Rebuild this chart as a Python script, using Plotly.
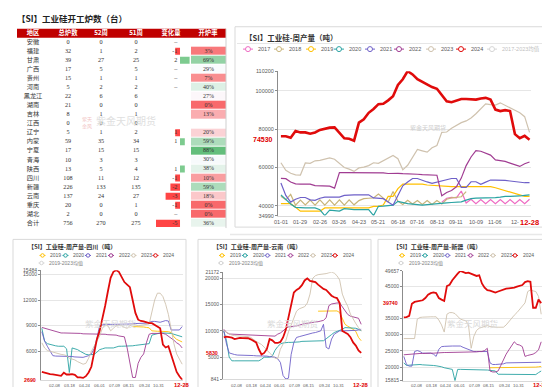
import plotly.graph_objects as go
from datetime import date

W, H = 550, 387
SANS = "Liberation Sans, Arial, Noto Sans CJK SC, sans-serif"
CJK = "Noto Sans CJK SC, sans-serif"
SERIF = "Liberation Serif, Noto Sans CJK SC, serif"

# ================= table data =================
table_title = "【SI】工业硅开工炉数（台）"
table_headers = ["地区", "总炉数", "52周", "51周", "变化量", "开炉率"]
regions = ["安徽", "福建", "甘肃", "广西", "贵州", "河南", "黑龙江", "湖南", "吉林", "江西", "辽宁",
           "内蒙", "宁夏", "青海", "陕西", "四川", "新疆", "云南", "重庆", "湖北", "合计"]
furnaces_total = [0, 32, 39, 17, 15, 5, 22, 21, 8, 0, 5, 59, 17, 10, 13, 108, 226, 137, 20, 2, 756]
furnaces_w52 = [0, 1, 27, 5, 1, 2, 6, 0, 1, 0, 1, 35, 15, 3, 5, 11, 133, 24, 0, 0, 270]
furnaces_w51 = [0, 2, 25, 5, 1, 2, 6, 0, 1, 0, 2, 34, 15, 3, 4, 12, 135, 27, 1, 0, 275]
change_labels = ["–", "-1", "2", "–", "–", "–", "", "", "", "", "1", "1", "", "", "1", "-1", "-2", "-3", "-1", "–", "-5"]
open_rate = [None, 3, 69, 29, 7, 40, 27, 0, 13, None, 20, 59, 88, 30, 38, 10, 59, 18, 0, 0, 36]

# ================= national weekly output =================
main_title = "【SI】工业硅-周产量（吨）"
main_tick_labels = ["01-01", "01-29", "02-26", "03-26", "04-23", "05-21", "06-18", "07-16",
                    "08-13", "09-11", "10-09", "11-06", "12-"]
main_last_label = "12-28"
main_yticks = [40000, 60000, 80000, 100000]

nat_2017 = [None] * 33 + [42000, 44000, 44500, 44200, 47800, 41500, 43500, 41200, 43300, 41200,
                          43300, 41200, 43300, 41200, 43300, 41200, 43300, 41200, 43500]
nat_2018 = [45000, 43200, 46000, 40400, 43000, 40500, 43000, 40400, 43200, 40400,
            43200, 40400, 43200, 40400, 43200, 40600, 42800, 43800, 44000, 44200,
            46200, 44000, 42000, 47500, 42500, 40800, 43000, 41000, 42800, 40800,
            42800, 40800, 42800, 41000, 43500, 44200, 44500, 44800, 47500] + [None] * 13
nat_2019 = [41200, 41200, 41200, 39300, 37300, 37300, 37300, 37300, 37300, 39000,
            39000, 39000, 39000, 39000, 39000, 39000, 39000, 39000, 39000, 39800,
            39800, 40500, 45000, 45000, 49000, 51400, 51400, 51400, 51400, 51400,
            50900, 50700, 50500, 50200, 50100, 50100, 50100, 50100, 50100, 50100,
            50100, 50100, 50300, 50100, 49500, 48700, 48000, 47500, 46700, 45500,
            45000, 45000]
nat_2020 = [45800, 43500, 41000, 39300, 39000, 39000, 39000, 39000, 38000, 35000,
            37800, 37500, 37300, 38600, 38300, 38100, 38100, 38100, 38100, 34990,
            39800, 39900, 40200, 40400, 42400, 41800, 41200, 41000, 40800, 40400,
            40700, 41000, 41300, 41500, 41600, 41800, 42000, 42100, 43000, 43800,
            44100, 44100, 44100, 44100, 44300, 44600, 45000, 45000, 45000, 45200,
            45500, 45800]
nat_2021 = [52000, 45500, 42000, 43500, 44400, 44400, 43200, 42900, 44000, 44600,
            44600, 44600, 44600, 45500, 45800, 45800, 45800, 45800, 45800, 44200,
            44100, 43800, 42000, 40400, 45500, 50500, 52500, 54300, 54300, 53200,
            52500, 51800, 52500, 53200, 53800, 54300, 54300, 49700, 49700, 52600,
            52600, 51300, 52400, 53500, 53500, 53500, 53300, 53000, 52700, 52200,
            52100, 52200]
nat_2022 = [54400, 54200, 52500, 51500, 51400, 51400, 51400, 50600, 50400, 50400,
            50300, 49300, 57400, 57400, 57400, 57300, 57300, 57300, 57300, 57300,
            57300, 57200, 56900, 57100, 57000, 56800, 56800, 56700, 56500, 56300,
            56100, 56000, 56000, 45300, 47000, 48000, 50000, 54500, 61000, 65500,
            68800, 68500, 67500, 66500, 64000, 63600, 63200, 62300, 61500, 60600,
            62000, 62900]
nat_2023 = [62500, 58600, 57000, 56200, 56100, 62400, 62200, 63500, 63700, 64200,
            65000, 64300, 62200, 60000, 59200, 58000, 59800, 60200, 61000, 62500,
            62200, 63600, 65000, 66300, 64600, 58800, 61200, 65500, 69400, 68700,
            68000, 70300, 71500, 78300, 78500, 80500, 82000, 83400, 84300, 85800,
            88000, 90500, 93200, 92800, 92500, 93700, 92500, 91400, 89800, 88500,
            86500, 78300]
nat_2024 = [76300, 76300, 75500, 79000, 78300, 78300, 77600, 78300, 79600, 80200,
            80800, 80900, 78300, 75200, 75000, 74000, 83400, 85100, 88500, 90500,
            93000, 93200, 95000, 97100, 103000, 106000, 110200, 108500, 106000, 104500,
            103000, 101900, 101000, 98000, 94500, 94000, 95000, 95700, 95700, 95700,
            95400, 96000, 96300, 95400, 90200, 89400, 89900, 89400, 77400, 75300,
            76500, 74530]

# ================= regional weekly output =================
small_tick_labels = ["02-08", "03-18", "04-24", "06-01", "07-09", "08-15", "09-24", "10-31"]
small_last_label = "12-28"
sc_title = "【SI】工业硅-周产量-四川（吨）"
yn_title = "【SI】工业硅-周产量-云南（吨）"
xj_title = "【SI】工业硅-周产量-新疆（吨）"
sc_yticks = [6000, 9000, 12000, 15000]
yn_yticks = [5000, 10000, 15000, 20000]
xj_yticks = [20000, 25000, 30000, 35000, 45000]

sc_2019 = [None] * 33 + [8900, 8900, 8900, 8900, 8850, 8800, 8750, 8400, 8350, 8350,
                         8350, 8350, 8350, 8300, 8200, 7700, 7400, 7200, 7100]
sc_2020 = [8700, 7200, 6900, 6800, 6700, 6650, 6600, 6600, 6600, 6300,
           3530, 6400, 6300, 6200, 6000, 5800, 5650, 5600, 5600, 5650,
           5900, 6200, 6300, 6400, 6400, 6400, 6400, 6500, 6600, 6600,
           6600, 6600, 6600, 6650, 6700, 6750, 6800, 6800, 6850, 6900,
           7900, 8000, 8100, 8150, 8150, 8150, 8150, 8100, 8000, 7900,
           7800, 7700]
sc_2021 = [8300, 7200, 6600, 6100, 5500, 5450, 5450, 5450, 5450, 5450,
           5400, 5400, 5350, 5330, 5330, 5300, 5400, 5500, 5700, 6300,
           7500, 9000, 9100, 9150, 9150, 9150, 9150, 9150, 9150, 9150,
           9200, 9200, 9200, 9200, 9250, 9250, 9300, 9300, 9300, 9400,
           9500, 9500, 9450, 9400, 9500, 9600, 9550, 8500, 8500, 8500,
           8500, 8900]
sc_2022 = [8800, 8700, 8600, 8500, 8400, 8300, 8200, 8150, 8150, 8150,
           8150, 8150, 8100, 8100, 8100, 8050, 8050, 8050, 8050, 8050,
           8050, 8000, 8000, 8000, 7950, 7950, 7900, 7900, 7800, 7760,
           7700, 6400, 4500, 2950, 2950, 4600, 5300, 5700, 7000, 8000,
           8100, 8100, 8100, 8100, 8100, 8000, 7800, 7600, 7300, 7000,
           6800, 6400]
sc_2023 = [7000, 6400, 6100, 6000, 5900, 5800, 5700, 5650, 5600, 5500,
           5200, 5100, 5000, 4800, 4600, 4500, 4600, 5200, 6000, 6600,
           7200, 7800, 8700, 9100, 9000, 8400, 8700, 9000, 9100, 9000,
           8800, 8700, 9000, 9200, 9100, 9000, 9050, 9100, 9100, 9200,
           10600, 12000, 12800, 12800, 12400, 11500, 10300, 8500, 6900, 5700,
           5000, 4500]
sc_2024 = [3600, 3500, 3400, 3330, 3300, 3260, 3200, 3140, 3500, 3300,
           3300, 3330, 3260, 2950, 2950, 2900, 3100, 3530, 4200, 5650,
           7400, 8400, 9800, 11300, 13000, 14600, 15300, 15484, 15300, 14700,
           14100, 13800, 13500, 12000, 10500, 9700, 9550, 9500, 9400, 9300,
           9300, 9100, 8950, 8700, 6800, 6450, 6600, 5500, 4400, 3600,
           3100, 2690]

yn_2019 = [None] * 35 + [13750, 13750, 13750, 13750, 13750, 13800, 13875, 13800, 13500, 12190,
                         11250, 10900, 10625, 10300, 9900, 8750, 8125]
yn_2020 = [10000, 8125, 5000, 4300, 4300, 4300, 4200, 4200, 4200, 4200,
           4200, 4300, 4300, 4300, 4600, 5000, 5000, 5000, 5200, 6300,
           7000, 7500, 7700, 7810, 7810, 7810, 7810, 7850, 7900, 8000,
           8000, 8050, 8100, 8125, 8125, 8125, 8125, 8125, 8500, 9000,
           9300, 9690, 9900, 10000, 10300, 10625, 10625, 10625, 10600, 10500,
           10310, 10000]
yn_2021 = [10000, 7500, 5800, 5600, 5500, 5400, 5400, 5400, 5300, 5300,
           5300, 5300, 5250, 5250, 5200, 5200, 5200, 5100, 5100, 5000,
           4690, 4000, 1500, 841, 1000, 5500, 7800, 8750, 8900, 9060,
           9200, 9375, 9450, 9600, 9690, 9800, 10000, 11250, 6875, 6560,
           8440, 9375, 9700, 10000, 10000, 10000, 10000, 10000, 10000, 10100,
           10200, 10310]
yn_2022 = [10300, 9700, 9400, 9375, 9375, 9375, 9375, 9300, 9300, 9300,
           9250, 9250, 9100, 9060, 9060, 9060, 9060, 9060, 9060, 9000,
           9375, 9600, 10000, 10500, 10750, 10800, 10900, 10950, 11100, 11300,
           11375, 11450, 11500, 11560, 11650, 11750, 11875, 12000, 12500, 14800,
           15125, 15250, 15310, 15310, 14600, 13800, 13125, 12800, 12625, 12500,
           12400, 11250]
yn_2023 = [10000, 9700, 9400, 9200, 9100, 9060, 9060, 9060, 9060, 8900,
           8750, 8300, 8000, 7700, 7400, 6900, 6250, 5800, 5300, 4800,
           4690, 6500, 7500, 8125, 9800, 11250, 12600, 13750, 14200, 14400,
           14600, 15300, 17000, 20000, 20500, 20700, 20750, 20750, 20900, 21060,
           21172, 21000, 20500, 19690, 17000, 15700, 14690, 13200, 12200, 11400,
           10625, 10000]
yn_2024 = [8750, 8900, 8800, 8700, 8450, 8600, 8650, 8625, 8600, 8600,
           8400, 8125, 7800, 6500, 5500, 5800, 6560, 8440, 8200, 7700,
           7700, 7900, 8750, 10200, 12600, 14800, 17300, 17800, 18125, 18700,
           19600, 20000, 19500, 19400, 19300, 18800, 18400, 18000, 17800, 17200,
           16700, 16400, 16250, 15300, 10000, 9700, 9400, 8800, 7800, 7200,
           6300, 5830]

xj_2019 = [None] * 32 + [19800, 19800, 19800, 19900, 19900, 19900, 19900, 19900, 19900, 19900,
                         20000, 20000, 20000, 20000, 20000, 20000, 20000, 20000, 20100, 20200]
xj_2020 = [21300, 20500, 20600, 20700, 20800, 20800, 20800, 20700, 20700, 20600,
           20600, 20500, 20400, 20300, 20100, 19800, 19600, 19300, 19300, 15815,
           19300, 19300, 19300, 19300, 19300, 19200, 19200, 19200, 19200, 19200,
           19100, 19100, 19000, 18900, 18800, 17800, 17800, 17800, 17700, 17700,
           17700, 17600, 17600, 17600, 17600, 17600, 17600, 17600, 17600, 17700,
           18300, 18800]
xj_2021 = [23300, 20800, 20300, 20300, 24800, 25100, 24800, 24300, 24300, 24400,
           24300, 24000, 23300, 25500, 26300, 26400, 26500, 26500, 26500, 26500,
           26500, 26500, 26100, 25800, 25500, 25300, 24800, 24800, 24800, 24800,
           24800, 24800, 21300, 20800, 20800, 20800, 20800, 21000, 21300, 21300,
           21300, 21300, 21400, 21400, 21500, 21500, 21500, 21500, 21500, 21500,
           21500, 21500]
xj_2022 = [23800, 23900, 24000, 24000, 24000, 24100, 24200, 24200, 24300, 24300,
           24300, 24300, 24400, 24400, 24500, 24500, 24500, 24500, 24500, 24600,
           24600, 24600, 24600, 24600, 24600, 24600, 24700, 24700, 24800, 24800,
           25100, 25800, 18800, 18500, 18500, 18800, 20500, 22500, 24000, 25300,
           26500, 27800, 27000, 26800, 26300, 23300, 23600, 23800, 24000, 24500,
           25300, 27800]
xj_2023 = [28800, 28800, 28800, 28800, 28800, 34800, 35300, 35400, 35500, 35500,
           35500, 35500, 35500, 34500, 33000, 30800, 36300, 36800, 36800, 36500,
           35800, 34800, 34500, 34300, 33000, 25800, 29500, 31300, 32000, 32300,
           32500, 32800, 32500, 32300, 32300, 32300, 32300, 32300, 33000, 34000,
           35300, 36000, 36800, 37800, 38800, 39800, 43300, 43800, 43500, 43300,
           41800, 36300]
xj_2024 = [35300, 35400, 35800, 39500, 40100, 40200, 40300, 40600, 41300, 42300,
           42800, 43000, 42800, 41300, 40800, 40400, 45000, 45400, 46800, 48000,
           48800, 49657, 49300, 49000, 49100, 48800, 48500, 48100, 48300, 45800,
           44500, 43700, 43600, 43300, 43000, 43300, 43600, 44000, 44200, 44300,
           44300, 44500, 44800, 45000, 45300, 46200, 46500, 46300, 38300, 38300,
           40800, 39740]

COLORS = {"2017": "#EE6BC3", "2018": "#C8B47A", "2019": "#FFC000", "2020": "#2AA3A3",
          "2021": "#6E60C8", "2022": "#A03C92", "2023": "#CFC2AE", "2024": "#E00B0B",
          "avg": "#D6D6D6"}

# ================= helpers =================
fig = go.Figure()
weeks = list(range(len(nat_2024)))
axes = {}
annotations = []
shapes = []


def dom_x(a, b):
    return [a / W, b / W]


def dom_y(top, bottom):
    return [1 - bottom / H, 1 - top / H]


def txt(x, y, s, size, color="#333333", anchor="left", family=CJK, xref="x8", yref="y8", bold=False):
    annotations.append(dict(x=x, y=y, xref=xref, yref=yref, text=("<b>%s</b>" % s) if bold else s,
                            showarrow=False, xanchor=anchor, yanchor="middle",
                            font=dict(size=size, color=color, family=family)))


def line_px(x0, y0, x1, y1, color, width=1.0):
    shapes.append(dict(type="line", xref="x8", yref="y8", x0=x0, y0=y0, x1=x1, y1=y1,
                       line=dict(color=color, width=width)))


def rect_px(x0, y0, x1, y1, color, width=1.0):
    shapes.append(dict(type="rect", xref="x8", yref="y8", x0=x0, y0=y0, x1=x1, y1=y1,
                       line=dict(color=color, width=width), fillcolor="rgba(0,0,0,0)"))


def legend_item(x0, y, label, color, seg, msize, fsize, tcolor):
    fig.add_trace(go.Scatter(x=[x0, x0 + seg / 2.0, x0 + seg], y=[y, y, y], mode="lines+markers",
                             line=dict(color=color, width=1),
                             marker=dict(size=msize, color="white", opacity=[0, 1, 0],
                                         line=dict(color=color, width=1)),
                             xaxis="x8", yaxis="y8", hoverinfo="skip", cliponaxis=False))
    txt(x0 + seg + 2.5, y, label, fsize, tcolor, family=SANS)


def chart(ax_id, xdom, ydom, series, yticks, xtickvals, xticktext, xrange, fs, xfs,
          red_w, other_w, last_label, label_y, red_size, axis_left_px):
    xa, ya = "x%d" % ax_id, "y%d" % ax_id
    vals = [v for _, s in series for v in s if v is not None]
    ymin, ymax = min(vals), max(vals)
    for name, s in series:
        fig.add_trace(go.Scatter(x=weeks, y=s, mode="lines",
                                 line=dict(color=COLORS[name], width=red_w if name == "2024" else other_w),
                                 xaxis=xa, yaxis=ya, hoverinfo="skip"))
    last = series[-1][1][-1]
    tv = [v for v in [ymin] + yticks + [ymax] if v != last]
    axes["xaxis%d" % ax_id] = dict(domain=dom_x(*xdom), anchor=ya, range=xrange, showticklabels=False,
                                   showgrid=False, zeroline=False, showline=True, linecolor="#d9d9d9",
                                   ticks="", fixedrange=True)
    axes["yaxis%d" % ax_id] = dict(domain=dom_y(*ydom), anchor=xa, range=[ymin, ymax], tickmode="array",
                                   tickvals=tv, ticktext=[str(v) for v in tv], showgrid=True,
                                   gridcolor="#e6e6e6", zeroline=False, showline=True, linecolor="#8c8c8c",
                                   ticks="outside", ticklen=2, tickcolor="#8c8c8c",
                                   tickfont=dict(size=fs, color="#595959", family=SANS), fixedrange=True)
    for pos, lab in zip(xtickvals, xticktext):
        txt(pos, label_y, lab, xfs, "#595959", anchor="center", family=SANS, xref=xa)
    txt(axis_left_px - 3, last, str(last), red_size, "#E00000", anchor="right", family=SANS, yref=ya, bold=True)
    txt(weeks[-1], label_y, last_label, red_size + 0.5, "#E00000", anchor="center", family=SANS,
        xref=xa, bold=True)


# ================= table =================
rows = list(range(len(regions)))
changes = [a - b for a, b in zip(furnaces_w52, furnaces_w51)]
axes["xaxis"] = dict(domain=dom_x(9, 218), range=[9, 218], visible=False, anchor="y", fixedrange=True)
axes["yaxis"] = dict(domain=dom_y(17.9, 220.3), range=[len(regions) - 0.5, -1.5], visible=False,
                     anchor="x", fixedrange=True)
axes["xaxis2"] = dict(domain=dom_x(148, 183), range=[-5.0, 2.29], visible=False, anchor="y", fixedrange=True)
axes["xaxis3"] = dict(domain=dom_x(183, 218), range=[-0.5, 0.5], visible=False, anchor="y", fixedrange=True)

shapes.append(dict(type="rect", xref="x", yref="y", x0=9, x1=218, y0=-1.5, y1=-0.5,
                   fillcolor="#C00000", line=dict(width=0), layer="below"))
fig.add_trace(go.Scatter(x=[25, 60, 93, 128, 163, 200], y=[-1] * 6, mode="text", text=table_headers,
                         textfont=dict(size=6.3, color="white", family=CJK, weight="bold"),
                         xaxis="x", yaxis="y", hoverinfo="skip", cliponaxis=False))
for cx, col, fam in [(25, regions, CJK), (60, furnaces_total, SERIF), (93, furnaces_w52, SERIF),
                     (128, furnaces_w51, SERIF)]:
    fig.add_trace(go.Scatter(x=[cx] * len(rows), y=rows, mode="text", text=[str(v) for v in col],
                             textfont=dict(size=6.2, color="#333333", family=fam),
                             xaxis="x", yaxis="y", hoverinfo="skip", cliponaxis=False))

max_rate = max(r for r in open_rate if r is not None)
mid = 28.0 / max_rate
fig.add_trace(go.Heatmap(z=[[r] for r in open_rate], x=[0], y=rows, xaxis="x3", yaxis="y",
                         colorscale=[[0, "#F8696B"], [mid, "#FCFCFF"], [1, "#63BE7B"]],
                         zmin=0, zmax=max_rate, showscale=False, ygap=1, hoverinfo="skip"))
fig.add_trace(go.Scatter(x=[0] * len(rows), y=rows, mode="text",
                         text=["" if r is None else "%d%%" % r for r in open_rate],
                         textfont=dict(size=6.0, color="#333333", family=SERIF),
                         xaxis="x3", yaxis="y", hoverinfo="skip", cliponaxis=False))
fig.add_trace(go.Bar(x=changes, y=rows, orientation="h", xaxis="x2", yaxis="y", width=0.78,
                     marker=dict(color=["#FF4545" if c < 0 else "#7DCB8F" for c in changes],
                                 line=dict(width=0)), hoverinfo="skip"))
fig.add_trace(go.Scatter(x=[-0.55] * len(rows), y=rows, mode="text", text=change_labels,
                         textposition="middle left",
                         textfont=dict(size=6.2, color="#333333", family=SERIF),
                         xaxis="x2", yaxis="y", hoverinfo="skip", cliponaxis=False))
txt(7, 7.5, table_title, 8.5, "#222222", bold=True)
line_px(218, 18, 218, 220.5, "#cfcfcf", 1)
txt(72, 113, "紫天<br>金风", 5, "#f2c4c4")
txt(86, 111, "紫金天风期货", 10, "#e0e0e0")

# ================= main chart =================
nat_series = [("2017", nat_2017), ("2018", nat_2018), ("2019", nat_2019), ("2020", nat_2020),
              ("2021", nat_2021), ("2022", nat_2022), ("2023", nat_2023), ("2024", nat_2024)]
chart(4, (270, 523), (61.1, 207.8), nat_series, main_yticks,
      [4 * i for i in range(len(main_tick_labels))], main_tick_labels, [-0.6, 51.3], 5.5, 5.5,
      2.6, 1.2, main_last_label, 214.5, 7.0, 270)
rect_px(227, 16, 540, 219.5, "#d9d9d9", 1)
line_px(229, 33, 538, 33, "#e6e6e6", 1)
line_px(222, 227, 550, 227, "#e8e8e8", 1.5)
txt(235, 26.5, main_title, 7.5, "#333333", bold=True)
txt(400, 118, "紫金天风期货", 6, "#cfcfcf")
main_legend = [("2017", "2017", 235), ("2018", "2018", 266), ("2019", "2019", 298), ("2020", "2020", 326),
               ("2021", "2021", 357), ("2022", "2022", 386), ("2023", "2023", 418), ("2024", "2024", 448),
               ("avg", "2017-2023均值", 479)]
for key, label, x0 in main_legend:
    legend_item(x0, 38.7, label, COLORS[key], 10, 5, 5.5, "#bfbfbf" if key == "avg" else "#595959")

# ================= small charts =================
start_day = date(2024, 1, 6)
small_tick_pos = [(date(2024, int(s[:2]), int(s[3:])) - start_day).days / 7.0 for s in small_tick_labels]
panels = [
    (5, sc_title, (33, 175), (263.3, 374.5), sc_yticks,
     [("2019", sc_2019), ("2020", sc_2020), ("2021", sc_2021), ("2022", sc_2022), ("2023", sc_2023), ("2024", sc_2024)],
     5, 31.5),
    (6, yn_title, (215, 354), (265.3, 373.8), yn_yticks,
     [("2019", yn_2019), ("2020", yn_2020), ("2021", yn_2021), ("2022", yn_2022), ("2023", yn_2023), ("2024", yn_2024)],
     190, 211),
    (7, xj_title, (395, 534), (264.0, 375.5), xj_yticks,
     [("2019", xj_2019), ("2020", xj_2020), ("2021", xj_2021), ("2022", xj_2022), ("2023", xj_2023), ("2024", xj_2024)],
     370, 391),
]
leg_offsets = [0, 23, 45.5, 68.5, 91, 113]
for ax_id, title, xd, yd, yt, ser, left, leg0 in panels:
    chart(ax_id, xd, yd, ser, yt, small_tick_pos, small_tick_labels, [-0.3, 51.3], 5, 4.3,
          1.8, 0.9, small_last_label, 380, 5.3, xd[0])
    rect_px(left, 232, left + 173, 386, "#d9d9d9", 1)
    txt(left + 13, 239, title, 6, "#333333", bold=True)
    for (name, _), off in zip(ser, leg_offsets):
        legend_item(leg0 + off, 248.3, name, COLORS[name], 6, 3.5, 5, "#595959")
    legend_item(leg0 - 1, 256, "2019-2023均值", COLORS["avg"], 6, 3.5, 5, "#808080")
    txt(xd[0] + 42, 317, "紫金天风期货", 8.5, "#d9d9d9")

axes["xaxis8"] = dict(domain=[0, 1], range=[0, W], visible=False, anchor="y8", fixedrange=True)
axes["yaxis8"] = dict(domain=[0, 1], range=[H, 0], visible=False, anchor="x8", fixedrange=True)

fig.update_layout(width=W, height=H, margin=dict(l=0, r=0, t=0, b=0), paper_bgcolor="white",
                  plot_bgcolor="rgba(0,0,0,0)", showlegend=False,
                  font=dict(family=SANS, size=6, color="#595959"),
                  annotations=annotations, shapes=shapes, **axes)
fig.write_html("out.html")
